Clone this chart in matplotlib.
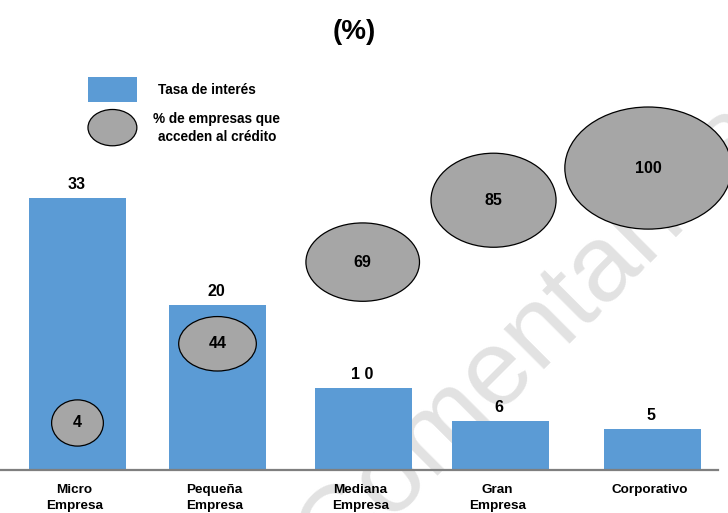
import matplotlib.pyplot as plt
from matplotlib.patches import Ellipse, Rectangle

plt.rcParams['font.family'] = ['Liberation Sans', 'DejaVu Sans']

# Data
categories = ["Micro\nEmpresa", "Pequeña\nEmpresa", "Mediana\nEmpresa", "Gran\nEmpresa", "Corporativo"]
tasa_interes = [33, 20, 10, 6, 5]
tasa_labels = ["33", "20", "1 0", "6", "5"]
acceso_credito = [4, 44, 69, 85, 100]

# Layout: bar centres, bubble centres and bubble sizes (axis units)
x_pos = [0.0, 0.974, 1.989, 2.942, 4.0]
bubble_x = [0.0, 0.974, 1.984, 2.894, 3.97]
bubble_y = [5.7, 15.3, 25.2, 32.7, 36.6]
bubble_w = [0.36, 0.54, 0.79, 0.87, 1.16]
bubble_h = [5.6, 6.6, 9.5, 11.4, 14.8]

blue = '#5B9BD5'
gray = '#A6A6A6'

fig = plt.figure(figsize=(7.28, 5.13), dpi=100)
ax = fig.add_axes([0, 0, 1, 1])
ax.set_xlim(-0.539, 4.525)
ax.set_ylim(-5.21, 56.97)
ax.axis('off')

# watermark, sits behind bars and bubbles
ax.text(1.78, -12.6, "Comentarios", fontsize=78, color='#e2e2e2',
        rotation=45, rotation_mode='anchor', ha='left', va='baseline', zorder=0)

bars = ax.bar(x_pos, tasa_interes, width=0.675, color=blue, zorder=2)
for rect, lab in zip(bars, tasa_labels):
    ax.annotate(lab, (rect.get_x() + rect.get_width() / 2, rect.get_height()),
                xytext=(-1, 4), textcoords='offset points', ha='center', va='bottom',
                fontsize=11.5, fontweight='bold', zorder=4)

# baseline
ax.plot([-0.539, 4.455], [0, 0], color='#7f7f7f', lw=1.6, zorder=3)

for xc, yc, w, h, v in zip(bubble_x, bubble_y, bubble_w, bubble_h, acceso_credito):
    ax.add_patch(Ellipse((xc, yc), w, h, facecolor=gray, edgecolor='black', lw=0.9, zorder=3))
    ax.text(xc, yc, str(v), ha='center', va='center', fontsize=11.5, fontweight='bold', zorder=4)

for x, lab in zip(x_pos, categories):
    ax.text(x - 0.02, -1.75, lab, ha='center', va='top', fontsize=9.7, fontweight='bold',
            linespacing=1.4)

# legend
ax.add_patch(Rectangle((0.073, 44.6), 0.34, 3.0, facecolor=blue, edgecolor='none'))
ax.text(0.559, 46.1, "Tasa de interés", ha='left', va='center', fontsize=9.8, fontweight='bold')
ax.add_patch(Ellipse((0.243, 41.5), 0.34, 4.4, facecolor=gray, edgecolor='black', lw=0.9))
ax.text(0.97, 41.5, "% de empresas que\nacceden al crédito", ha='center', va='center',
        fontsize=9.8, fontweight='bold', linespacing=1.35)

ax.text(1.924, 53.1, "(%)", ha='center', va='center', fontsize=20, fontweight='bold')

fig.savefig('out.png', dpi=100)
